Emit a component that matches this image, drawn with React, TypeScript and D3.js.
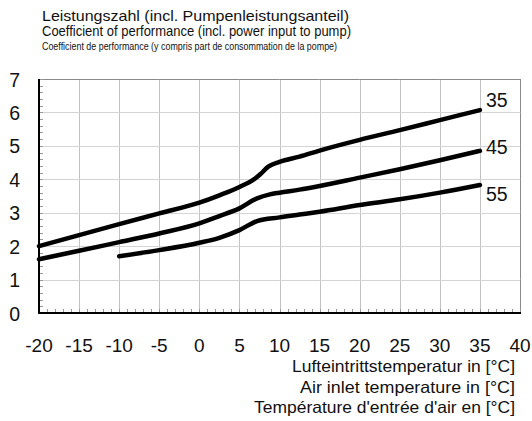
import React, { useEffect } from 'react';
import * as d3 from 'd3';

// Vorlauftemperaturen (Kurven)
const seriesNames = ['35', '45', '55'];

const temps35 = [-20, -15, -10, -5, 0, 2.5, 5, 7, 7.6, 8.6, 10, 12.5, 15, 20, 25, 30, 35];
const cop35 = [2.0, 2.33, 2.66, 2.98, 3.3, 3.52, 3.77, 4.03, 4.15, 4.38, 4.52, 4.68, 4.86, 5.18, 5.47, 5.77, 6.07];

const temps45 = [-20, -15, -10, -5, 0, 2.5, 5, 7.2, 8.8, 10, 12.5, 15, 20, 25, 30, 35];
const cop45 = [1.61, 1.86, 2.12, 2.38, 2.68, 2.9, 3.13, 3.43, 3.55, 3.6, 3.69, 3.8, 4.05, 4.3, 4.57, 4.85];

const temps55 = [-10, -5, 0, 2.5, 5, 7.2, 10, 12.5, 15, 20, 25, 30, 35];
const cop55 = [1.7, 1.88, 2.1, 2.25, 2.48, 2.75, 2.86, 2.945, 3.03, 3.23, 3.4, 3.6, 3.83];

const xTicks = [-20, -15, -10, -5, 0, 5, 10, 15, 20, 25, 30, 35, 40];
const yTicks = [0, 1, 2, 3, 4, 5, 6, 7];

const titleLines = [
  'Leistungszahl (incl. Pumpenleistungsanteil)',
  'Coefficient of performance (incl. power input to pump)',
  'Coefficient de performance (y compris part de consommation de la pompe)',
];
const xTitleLines = [
  'Lufteintrittstemperatur in [°C]',
  'Air inlet temperature in [°C]',
  "Température d'entrée d'air en [°C]",
];

const W = 532;
const H = 421;
const FONT = 'Liberation Sans, Arial, sans-serif';

const App = () => {
  useEffect(() => {
    document.body.style.margin = '0';
  }, []);

  const x = d3.scaleLinear()
    .domain([xTicks[0], xTicks[xTicks.length - 1]])
    .range([39, 520]);
  const y = d3.scaleLinear()
    .domain([yTicks[0], yTicks[yTicks.length - 1]])
    .range([313, 79]);
  const [left, right] = x.range();
  const [bottom, top] = y.range();

  const line = d3.line<[number, number]>()
    .x(d => x(d[0]))
    .y(d => y(d[1]))
    .curve(d3.curveMonotoneX);

  const series = [
    { name: seriesNames[0], xs: temps35, ys: cop35 },
    { name: seriesNames[1], xs: temps45, ys: cop45 },
    { name: seriesNames[2], xs: temps55, ys: cop55 },
  ];

  const minorY = d3.range(yTicks[0], yTicks[yTicks.length - 1] + 0.001, 0.2);
  const minorX = d3.range(xTicks[0], xTicks[xTicks.length - 1] + 0.001, 1);

  // grid drawn in short pieces, one per tick interval
  const xPairs = d3.pairs(xTicks);
  const yPairs = d3.pairs(yTicks);

  const titleSizes = [14.5, 14.5, 11.5];
  const titleLens = [307, 309, 295];
  const titleY = [20.5, 35.5, 49.5];
  const xTitleLens = [223, 215, 261];
  const xTitleY = [371.7, 393, 413.3];
  const labelDy = [-3, 3, 16];

  const px = (v: number) => Math.round(v) + 0.5;

  return (
    <svg
      width={W}
      height={H}
      style={{ display: 'block', background: '#fff' }}
    >
      {titleLines.map((t, i) => (
        <text
          key={t}
          x={42}
          y={titleY[i]}
          textLength={titleLens[i]}
          lengthAdjust="spacingAndGlyphs"
          fontFamily={FONT}
          fontSize={titleSizes[i]}
          fill="#111"
        >
          {t}
        </text>
      ))}

      {/* vertical grid */}
      <g stroke="#c2c2c2" strokeWidth={1}>
        {xTicks.slice(1, -1).map(t =>
          yPairs.map(([a, b]) => (
            <line key={`v${t}_${a}`} x1={px(x(t))} x2={px(x(t))} y1={y(a)} y2={y(b)} />
          ))
        )}
      </g>
      {/* horizontal grid */}
      <g stroke="#d4d4d4" strokeWidth={1.2}>
        {yTicks.slice(1, -1).map(t =>
          xPairs.map(([a, b]) => (
            <line key={`h${t}_${a}`} x1={x(a)} x2={x(b)} y1={px(y(t))} y2={px(y(t))} />
          ))
        )}
      </g>

      {/* top and right frame */}
      <g stroke="#8a8a8a" strokeWidth={1}>
        {xPairs.map(([a, b]) => (
          <line key={`t${a}`} x1={x(a)} x2={x(b)} y1={top + 0.5} y2={top + 0.5} />
        ))}
        {yPairs.map(([a, b]) => (
          <line key={`r${a}`} x1={right + 0.5} x2={right + 0.5} y1={y(a)} y2={y(b)} />
        ))}
      </g>

      {/* minor ticks, pointing inward */}
      <g stroke="#999" strokeWidth={1}>
        {minorY.map(t => (
          <line key={`my${t}`} x1={left} x2={left + 4} y1={px(y(t))} y2={px(y(t))} />
        ))}
        {minorX.map(t => (
          <line key={`mx${t}`} x1={px(x(t))} x2={px(x(t))} y1={bottom} y2={bottom - 4} />
        ))}
      </g>

      {/* axis lines */}
      <g stroke="#000" strokeWidth={2}>
        {yPairs.map(([a, b]) => (
          <line key={`al${a}`} x1={left} x2={left} y1={y(a) + 1} y2={y(b)} />
        ))}
        {xPairs.map(([a, b]) => (
          <line key={`ab${a}`} x1={x(a) - 1} x2={x(b) + 1} y1={bottom} y2={bottom} />
        ))}
      </g>

      {yTicks.map(t => (
        <text
          key={`yl${t}`}
          x={20}
          y={y(t) + 7.5}
          textAnchor="end"
          fontFamily={FONT}
          fontSize={19.5}
          fill="#111"
        >
          {t}
        </text>
      ))}
      {xTicks.map(t => (
        <text
          key={`xl${t}`}
          x={x(t)}
          y={351.5}
          textAnchor="middle"
          fontFamily={FONT}
          fontSize={19}
          fill="#111"
        >
          {t}
        </text>
      ))}

      {xTitleLines.map((t, i) => (
        <text
          key={t}
          x={515}
          y={xTitleY[i]}
          textAnchor="end"
          textLength={xTitleLens[i]}
          lengthAdjust="spacingAndGlyphs"
          fontFamily={FONT}
          fontSize={16.5}
          fill="#111"
        >
          {t}
        </text>
      ))}

      {series.map((s, i) => {
        const pts = s.xs.map((t, j) => [t, s.ys[j]] as [number, number]);
        const last = pts[pts.length - 1];
        return (
          <g key={s.name}>
            <path
              d={line(pts) || ''}
              fill="none"
              stroke="#000"
              strokeWidth={4.5}
              strokeLinecap="round"
              strokeLinejoin="round"
            />
            <text
              x={x(last[0]) + 6}
              y={y(last[1]) + labelDy[i]}
              fontFamily={FONT}
              fontSize={19.5}
              fill="#111"
            >
              {s.name}
            </text>
          </g>
        );
      })}
    </svg>
  );
};

export default App;
